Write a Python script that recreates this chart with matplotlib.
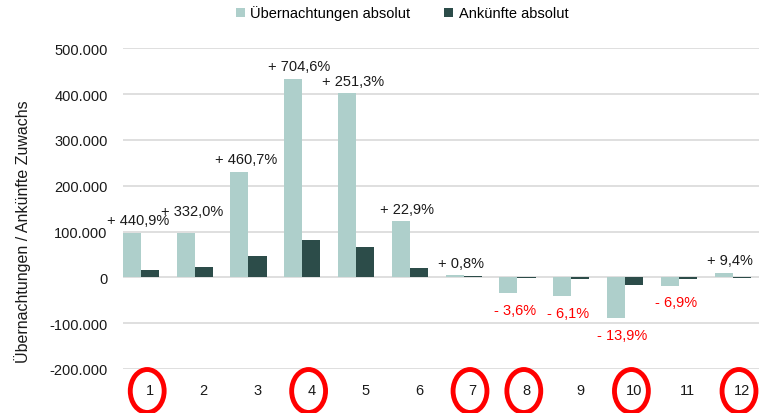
import matplotlib
matplotlib.use("Agg")
import matplotlib.pyplot as plt
from matplotlib.patches import Ellipse
from matplotlib.transforms import blended_transform_factory
from matplotlib.ticker import FuncFormatter, MultipleLocator
import numpy as np

plt.rcParams['font.family'] = ['Liberation Sans', 'DejaVu Sans']

months = [1, 2, 3, 4, 5, 6, 7, 8, 9, 10, 11, 12]
uebernachtungen = [97000, 97000, 230000, 433000, 402000, 122000, 5000, -34000, -41500, -88500, -18000, 10000]
ankuenfte = [15000, 22000, 47000, 81000, 65500, 20000, 4000, -1000, -3000, -16000, -3000, -1500]
pct_labels = ["+ 440,9%", "+ 332,0%", "+ 460,7%", "+ 704,6%", "+ 251,3%", "+ 22,9%",
              "+ 0,8%", "- 3,6%", "- 6,1%", "- 13,9%", "- 6,9%", "+ 9,4%"]
circled = [1, 4, 7, 8, 10, 12]
series_names = ["Übernachtungen absolut", "Ankünfte absolut"]

light = "#aecfcb"
dark = "#2c4c49"

W, H = 759, 414
fig = plt.figure(figsize=(W / 100, H / 100), dpi=100)
ax_left, ax_right = 123, 123 + 12 * 53.8
ax_top, ax_bot = 49.3, 370
ax = fig.add_axes([ax_left / W, 1 - ax_bot / H, (ax_right - ax_left) / W, (ax_bot - ax_top) / H])

x = np.array(months, dtype=float)
bw = 0.335
b1 = ax.bar(x - bw, uebernachtungen, width=bw, color=light, label=series_names[0], zorder=3)
b2 = ax.bar(x, ankuenfte, width=bw, color=dark, label=series_names[1], zorder=3)

ax.set_xlim(0.5, 12.5)
ax.set_ylim(-200000, 500000)
ax.yaxis.set_major_locator(MultipleLocator(100000))
ax.yaxis.set_major_formatter(FuncFormatter(lambda v, p: f"{int(v):,}".replace(",", ".")))
ax.grid(axis='y', color='#d9d9d9', linewidth=1.2, zorder=0)
for s in ax.spines.values():
    s.set_visible(False)
ax.tick_params(axis='y', length=0, pad=11, labelsize=10.5, labelcolor='#1a1a1a')
ax.set_xticks(x)
ax.set_xticklabels([str(m) for m in months])
ax.tick_params(axis='x', length=0, pad=10, labelsize=10.5, labelcolor='#1a1a1a')

texts = []
for xi, v, lab in zip(x, uebernachtungen, pct_labels):
    if v >= 0:
        t = ax.annotate(lab, (xi - 0.22, v), xytext=(0, 9), textcoords='offset points',
                        ha='center', va='center', fontsize=10.5, color='#1a1a1a', zorder=5)
    else:
        t = ax.annotate(lab, (xi - 0.22, v), xytext=(0, -12), textcoords='offset points',
                        ha='center', va='center', fontsize=10.5, color='#ff0000', zorder=5)
    texts.append(t)

# simple collision avoidance: raise a label that collides with its left neighbour
fig.canvas.draw()
r = fig.canvas.get_renderer()
for i in range(1, len(texts)):
    a = texts[i - 1].get_window_extent(r)
    b = texts[i].get_window_extent(r)
    if b.x0 < a.x1 - 1 and b.y0 < a.y1 and b.y1 > a.y0:
        ox, oy = texts[i].xyann
        texts[i].xyann = (ox, oy + 7)

trans = blended_transform_factory(ax.transData, ax.transAxes)
for m in circled:
    e = Ellipse((m - 0.05, -0.0686), width=0.63, height=0.134, transform=trans,
                fill=False, edgecolor='#ff0000', linewidth=3.5, clip_on=False, zorder=6)
    ax.add_patch(e)

fig.text(23 / W, 1 - 232 / H, "Übernachtungen / Ankünfte Zuwachs", rotation=90,
         ha='center', va='center', fontsize=11.5, color='#1a1a1a')

fig.legend(handles=[b1, b2], loc='center', bbox_to_anchor=(402 / W, 1 - 14 / H), ncol=2,
           frameon=False, fontsize=10.5, handlelength=0.6, handleheight=0.6,
           handletextpad=0.4, columnspacing=2.3, borderpad=0)

fig.savefig("out.png", dpi=100)
